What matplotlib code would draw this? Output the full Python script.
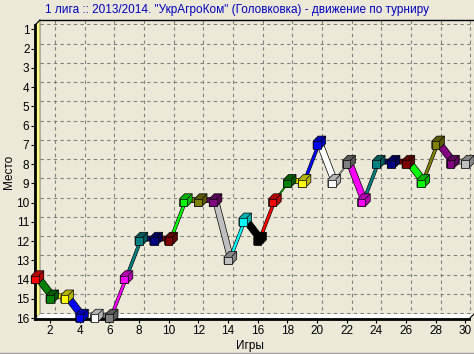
import matplotlib
matplotlib.use('Agg')
import matplotlib.pyplot as plt
from matplotlib.patches import Polygon
from matplotlib.lines import Line2D
import matplotlib.transforms as mtransforms
import numpy as np

plt.rcParams['font.family'] = ['Liberation Sans', 'DejaVu Sans']

# ---- data ----
games = list(range(1, 31))
places = [14, 15, 15, 16, 16, 16, 14, 12, 12, 12, 10, 10, 10, 13, 11,
          12, 10, 9, 9, 7, 9, 8, 10, 8, 8, 8, 9, 7, 8, 8]
x_ticks = list(range(2, 31, 2))
y_ticks = list(range(1, 17))
title = '1 лига :: 2013/2014. "УкрАгроКом" (Головковка) - движение по турниру'
x_label = 'Игры'
y_label = 'Место'

# ---- style ----
palette = ['#FF0000', '#008000', '#FFFF00', '#0000FF', '#FFFFFF', '#808080',
           '#FF00FF', '#008080', '#000080', '#800000', '#00FF00', '#808000',
           '#800080', '#C0C0C0', '#00FFFF', '#000000']
point_colors = [palette[i % len(palette)] for i in range(len(games))]
bg = '#ECE9D8'
W, H = 474, 354
DEPTH = 5.0      # wall depth in pixels
RDEPTH = 5.0     # ribbon / marker depth
HALF = 3.8       # half marker size

fig = plt.figure(figsize=(W / 100, H / 100), dpi=100)
fig.patch.set_facecolor(bg)
ax = fig.add_axes([35 / W, 1 - 319 / H, (469 - 35) / W, (319 - 25) / H])
ax.set_facecolor('none')
xmin, xmax = 1.0, 30.25
ymin, ymax = 0.77, 16.05
ax.set_xlim(xmin, xmax)
ax.set_ylim(ymax, ymin)
for s in ax.spines.values():
    s.set_visible(False)
ax.set_xticks(x_ticks)
ax.set_yticks(y_ticks)
ax.tick_params(length=3, width=0.8, labelsize=8.5, pad=1, colors='black')

off = mtransforms.offset_copy(ax.transData, fig=fig, x=DEPTH, y=DEPTH, units='dots')
ident = mtransforms.IdentityTransform()

# back wall grid
grid_kw = dict(transform=off, color='#808080', lw=0.8, ls=(0, (3, 3)), clip_on=False, zorder=1)
for p in y_ticks:
    ax.plot([xmin, xmax], [p, p], **grid_kw)
for g in x_ticks:
    ax.plot([g, g], [ymin, ymax], **grid_kw)
ax.plot([xmin, xmax], [ymin, ymin], transform=off, color='black', lw=1.0, clip_on=False, zorder=1)

def disp(x, y):
    return np.array(ax.transData.transform((x, y)))

d = np.array([DEPTH, DEPTH])
# left wall
fl_b = disp(xmin, ymax)
fl_t = disp(xmin, ymin)
wall = Polygon([fl_b, fl_t, fl_t + d, fl_b + d], closed=True, transform=ident,
               facecolor='#FFFF88', edgecolor='#606060', lw=0.6, zorder=2)
fig.add_artist(wall)
fig.add_artist(Line2D([fl_b[0], fl_t[0]], [fl_b[1], fl_t[1]], transform=ident, color='black', lw=2.0, zorder=2.5))
fig.add_artist(Line2D([fl_t[0], fl_t[0] + DEPTH], [fl_t[1], fl_t[1] + DEPTH], transform=ident, color='black', lw=0.8, zorder=2.5))

# floor
fr_b = disp(xmax, ymax)
floor = Polygon([fl_b, fr_b, fr_b + d, fl_b + d], closed=True, transform=ident,
                facecolor='white', edgecolor='none', zorder=2)
fig.add_artist(floor)
fig.add_artist(Line2D([fl_b[0], fr_b[0]], [fl_b[1], fr_b[1]], transform=ident, color='black', lw=2.0, zorder=2.5))
fig.add_artist(Line2D([fr_b[0], fr_b[0] + DEPTH], [fr_b[1], fr_b[1] + DEPTH], transform=ident, color='black', lw=0.8, zorder=2.5))

def shade(c, f=0.6):
    rgb = np.array(matplotlib.colors.to_rgb(c))
    return tuple(rgb * f)

rd = np.array([RDEPTH, RDEPTH])
pts = [disp(g, p) for g, p in zip(games, places)]

# ribbons
for i in range(1, len(pts)):
    P, Q = pts[i - 1], pts[i]
    c = point_colors[i]
    rib = Polygon([P, Q, Q + rd, P + rd], closed=True, transform=ident,
                  facecolor=c, edgecolor='black', lw=0.5, zorder=3 + i * 0.01)
    fig.add_artist(rib)
    fig.add_artist(Line2D([P[0] + rd[0] / 2, Q[0] + rd[0] / 2], [P[1] + rd[1] / 2, Q[1] + rd[1] / 2],
                          transform=ident, color=c, lw=1.2, zorder=3 + i * 0.01 + 0.001))

# markers (3D cubes)
for i, P in enumerate(pts):
    c = point_colors[i]
    x, y = P
    h = HALF
    hexa = [(x - h, y - h), (x + h, y - h), (x + h + RDEPTH, y - h + RDEPTH),
            (x + h + RDEPTH, y + h + RDEPTH), (x - h + RDEPTH, y + h + RDEPTH), (x - h, y + h)]
    fig.add_artist(Polygon(hexa, closed=True, transform=ident, facecolor=shade(c, 0.7),
                           edgecolor='black', lw=0.5, zorder=4 + i * 0.01))
    fig.add_artist(Polygon([(x + h, y + h), (x + h + RDEPTH, y + h + RDEPTH)], closed=False, transform=ident,
                           facecolor='none', edgecolor='black', lw=0.5, zorder=4 + i * 0.01 + 0.001))
    fig.add_artist(Polygon([(x - h, y - h), (x + h, y - h), (x + h, y + h), (x - h, y + h)], closed=True,
                           transform=ident, facecolor=c, edgecolor='black', lw=0.5,
                           zorder=4 + i * 0.01 + 0.002))

# texts
fig.text(237 / W, 1 - 10 / H, title, ha='center', va='center', fontsize=8.5, color='#0000C0')
fig.text(250 / W, 1 - 346 / H, x_label, ha='center', va='center', fontsize=8.5)
fig.text(9 / W, 1 - 172 / H, y_label, ha='center', va='center', rotation=90, fontsize=8.5)

fig.add_artist(Line2D([0, 1], [1 - 352.5 / H, 1 - 352.5 / H], transform=fig.transFigure, color='#A0A0A0', lw=1))

fig.savefig('out.png', dpi=100, facecolor=bg)
